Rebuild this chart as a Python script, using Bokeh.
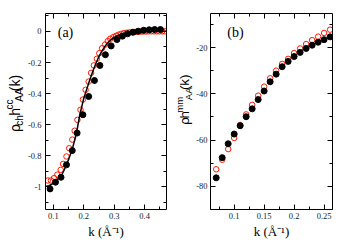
import math
from bokeh.plotting import figure
from bokeh.models import Range1d, FixedTicker, LinearAxis, Label
from bokeh.layouts import row
from bokeh.core.properties import value
from bokeh.embed import file_html
from bokeh.resources import INLINE

# ---------------- data: panel (a) ----------------
a_black_k = [0.089, 0.107, 0.125, 0.143, 0.162, 0.178, 0.197, 0.216, 0.235, 0.253, 0.271,
             0.290, 0.309, 0.327, 0.344, 0.362, 0.379, 0.397, 0.415, 0.433, 0.452]
a_black_h = [-1.015, -0.972, -0.940, -0.860, -0.768, -0.655, -0.537, -0.419, -0.316, -0.219, -0.150,
             -0.093, -0.052, -0.030, -0.015, -0.005, 0.002, 0.008, 0.011, 0.013, 0.013]

a_red_k = [0.0815, 0.092, 0.102, 0.113, 0.124, 0.132, 0.143, 0.152, 0.162, 0.170, 0.179,
           0.189, 0.197, 0.206, 0.216, 0.224, 0.233, 0.243, 0.251, 0.260, 0.270, 0.279,
           0.287, 0.297, 0.306, 0.314, 0.323, 0.332, 0.341, 0.350, 0.359, 0.368, 0.377,
           0.386, 0.395, 0.404, 0.413, 0.422, 0.431, 0.440, 0.449, 0.458, 0.467]
a_red_h = [-0.961, -0.961, -0.946, -0.923, -0.892, -0.854, -0.806, -0.753, -0.697, -0.640, -0.570,
           -0.505, -0.439, -0.376, -0.323, -0.267, -0.219, -0.176, -0.140, -0.108, -0.084, -0.062,
           -0.047, -0.036, -0.028, -0.021, -0.015, -0.011, -0.008, -0.006, -0.004, -0.003, -0.002,
           -0.001, 0.000, 0.000, 0.001, 0.001, 0.001, 0.001, 0.001, 0.001, 0.001]

a_line_k = [0.075, 0.085, 0.095, 0.105, 0.115, 0.125, 0.135, 0.143, 0.152, 0.162, 0.170, 0.176,
            0.186, 0.200, 0.210, 0.220, 0.230, 0.240, 0.250, 0.260, 0.270, 0.280, 0.290, 0.300,
            0.310, 0.320, 0.340, 0.360, 0.380, 0.400, 0.430, 0.470]
a_line_h = [-1.000, -0.995, -0.985, -0.970, -0.950, -0.935, -0.895, -0.860, -0.815, -0.760, -0.700,
            -0.655, -0.545, -0.430, -0.370, -0.310, -0.255, -0.205, -0.160, -0.125, -0.095, -0.070,
            -0.052, -0.038, -0.027, -0.019, -0.009, -0.004, -0.001, 0.000, 0.002, 0.002]

a_xticks = [0.1, 0.2, 0.3, 0.4]
a_xminor = [0.05, 0.1, 0.15, 0.2, 0.25, 0.3, 0.35, 0.4, 0.45]
a_xlabels = ["0.1", "0.2", "0.3", "0.4"]
a_yticks = [-1.0, -0.8, -0.6, -0.4, -0.2, 0.0]
a_yminor = [-1.1, -1.0, -0.9, -0.8, -0.7, -0.6, -0.5, -0.4, -0.3, -0.2, -0.1, 0.0, 0.1]
a_ylabels = ["-1", "-0.8", "-0.6", "-0.4", "-0.2", "0"]

# ---------------- data: panel (b) ----------------
b_k = [0.07, 0.08, 0.09, 0.10, 0.11, 0.12, 0.13, 0.14, 0.15, 0.16,
       0.17, 0.18, 0.19, 0.20, 0.21, 0.22, 0.23, 0.24, 0.25, 0.26]
b_black = [-76.3, -67.6, -61.6, -57.4, -53.8, -49.9, -46.5, -42.5, -38.8, -34.8,
           -31.5, -28.3, -26.0, -23.9, -22.1, -20.4, -19.0, -17.7, -16.6, -15.4]
b_red = [-72.6, -68.5, -63.9, -59.1, -53.5, -48.9, -44.8, -40.8, -36.9, -33.3,
         -30.0, -27.1, -24.9, -22.4, -20.4, -18.5, -16.8, -15.3, -13.7, -12.3]

b_xticks = [0.1, 0.15, 0.2, 0.25]
b_xminor = [0.075, 0.1, 0.125, 0.15, 0.175, 0.2, 0.225, 0.25]
b_xlabels = ["0.1", "0.15", "0.2", "0.25"]
b_yticks = [-80, -60, -40, -20]
b_yminor = [-90, -80, -70, -60, -50, -40, -30, -20, -10]
b_ylabels = ["-80", "-60", "-40", "-20"]

x_title = "k (\u00c5\u207b\u00b9)"
# (text, role, extra gap after the piece in px)
a_ytitle = [("\u03c1", "main", 0), ("ch", "sub", 2), ("h", "main", 0), ("cc", "sup", 0),
            ("AA", "sub", 0), ("(k)", "main", 0)]
b_ytitle = [("\u03c1", "main", 0), ("h", "main", 0), ("mm", "sup", 0), ("AA", "sub", 0),
            ("(k)", "main", 0)]

SERIF = "Liberation Serif"
SANS = "Liberation Sans"
RED = "#ff1a00"
H = 248

# approximate em widths of Liberation Sans glyphs (for laying out rotated pieces)
EM = {"\u03c1": 0.58, "c": 0.5, "h": 0.556, "A": 0.667, "(": 0.333, ")": 0.333,
      "k": 0.5, "m": 0.833}


def setup_axis(ax, ticks, minor, labels, show, standoff=4):
    ax.ticker = FixedTicker(ticks=ticks, minor_ticks=minor)
    ax.major_tick_in = 5
    ax.major_tick_out = 0
    ax.minor_tick_in = 3
    ax.minor_tick_out = 0
    ax.axis_line_color = "black"
    ax.axis_line_width = 1
    ax.major_tick_line_color = "black"
    ax.minor_tick_line_color = "black"
    if show:
        ax.major_label_overrides = dict(zip(ticks, labels))
        ax.major_label_text_font = SERIF
        ax.major_label_text_font_size = "8.5px"
        ax.major_label_text_color = "#222222"
        ax.major_label_standoff = standoff
    else:
        ax.major_label_overrides = {t: "" for t in ticks}
        ax.major_label_text_font_size = "0px"
        ax.major_label_standoff = 0


def make_fig(width, xr, yr, left, right):
    p = figure(width=width, height=H, x_range=Range1d(*xr), y_range=Range1d(*yr),
               output_backend="svg", toolbar_location=None,
               min_border_left=left, min_border_right=right,
               min_border_top=13, min_border_bottom=39)
    p.grid.visible = False
    p.outline_line_color = None
    p.background_fill_color = "white"
    p.border_fill_color = "white"
    p.add_layout(LinearAxis(), "above")
    p.add_layout(LinearAxis(), "right")
    return p


def x_title_style(ax):
    ax.axis_label = x_title
    ax.axis_label_text_font = SERIF
    ax.axis_label_text_font_size = "13px"
    ax.axis_label_text_font_style = "normal"
    ax.axis_label_text_color = "black"
    ax.axis_label_standoff = 2


def ytitle_fig(width, pieces, cx, y_mid, main=13.5, small=9.5, shift=0.36):
    f = figure(width=width, height=H, x_range=Range1d(0, width), y_range=Range1d(0, H),
               output_backend="svg", toolbar_location=None, min_border=0,
               x_axis_location=None, y_axis_location=None)
    f.grid.visible = False
    f.outline_line_color = None
    f.border_fill_color = "white"
    lengths = []
    for txt, role, gap in pieces:
        size = main if role == "main" else small
        lengths.append(sum(EM.get(ch, 0.55) for ch in txt) * size + gap)
    pos = y_mid - sum(lengths) / 2.0
    for (txt, role, gap), ln in zip(pieces, lengths):
        size = main if role == "main" else small
        dx = {"main": 0.0, "sub": shift * main, "sup": -shift * main}[role]
        f.text(x=[cx + dx], y=[pos], text=[txt], angle=math.pi / 2,
               text_font=value(SANS), text_font_size=f"{size}px",
               text_align="left", text_baseline="middle", text_color="black")
        pos += ln
    return f


# ---------------- panel (a) ----------------
pa = make_fig(149, (0.074, 0.472), (-1.148, 0.116), 19, 8)
for ax in pa.below:
    setup_axis(ax, a_xticks, a_xminor, a_xlabels, True, 3)
    x_title_style(ax)
for ax in pa.above:
    setup_axis(ax, a_xticks, a_xminor, a_xlabels, False)
for ax in pa.left:
    setup_axis(ax, a_yticks, a_yminor, a_ylabels, True, 4)
for ax in pa.right:
    setup_axis(ax, a_yticks, a_yminor, a_ylabels, False)

pa.scatter(a_red_k, a_red_h, size=5.5, marker="circle", fill_color=None,
           line_color=RED, line_width=1)
pa.scatter(a_black_k, a_black_h, size=6, marker="circle", fill_color="black",
           line_color="black")
pa.line(a_line_k, a_line_h, line_color="black", line_width=1.5)
pa.add_layout(Label(x=20, y=177, x_units="screen", y_units="screen", text="(a)",
                    text_font=SERIF, text_font_size="14px", text_align="center",
                    text_baseline="middle", text_color="black"))

la = ytitle_fig(25, a_ytitle, 14.0, H - 116.0, main=14.0, small=10.0)

# ---------------- panel (b) ----------------
pb = make_fig(155, (0.0605, 0.264), (-90.0, -5.3), 15, 16)
for ax in pb.below:
    setup_axis(ax, b_xticks, b_xminor, b_xlabels, True, 3)
    x_title_style(ax)
for ax in pb.above:
    setup_axis(ax, b_xticks, b_xminor, b_xlabels, False)
for ax in pb.left:
    setup_axis(ax, b_yticks, b_yminor, b_ylabels, True, 3)
for ax in pb.right:
    setup_axis(ax, b_yticks, b_yminor, b_ylabels, False)

pb.scatter(b_k, b_red, size=5.5, marker="circle", fill_color=None,
           line_color=RED, line_width=1)
pb.scatter(b_k, b_black, size=6, marker="circle", fill_color="black",
           line_color="black")
pb.add_layout(Label(x=25, y=177, x_units="screen", y_units="screen", text="(b)",
                    text_font=SERIF, text_font_size="14px", text_align="center",
                    text_baseline="middle", text_color="black"))

lb = ytitle_fig(19, b_ytitle, 9.5, H - 111.0, main=13.5, small=9.5, shift=0.34)

layout = row(la, pa, lb, pb)
open("out.html", "w").write(file_html(layout, INLINE))
